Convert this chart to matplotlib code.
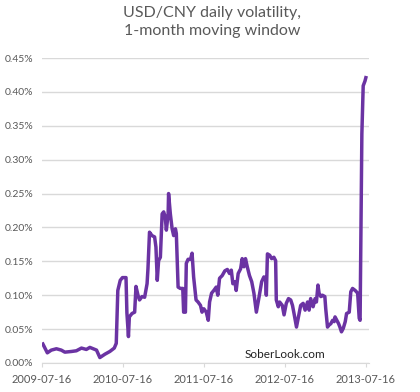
import matplotlib
matplotlib.use("Agg")
import matplotlib.pyplot as plt
import matplotlib.ticker as mticker
import matplotlib.dates as mdates
import pandas as pd

plt.rcParams['font.family'] = ['Lato', 'DejaVu Sans']

# days after 2009-07-16
days = [4, 24, 42, 65, 87, 103, 133, 155, 178, 200, 216, 231, 246, 261, 284,
        306, 326, 335, 342, 353, 363, 379, 383, 390, 394, 406, 418, 424, 433,
        440, 451, 463, 474, 478, 485, 496, 508, 514, 520, 526, 534, 542, 549,
        556, 561, 569, 571, 579, 587, 594, 602, 606, 614, 624, 635, 639, 647,
        651, 659, 670, 677, 684, 695, 704, 715, 722, 730, 741, 750, 756, 765,
        775, 786, 793, 801, 813, 825, 836, 846, 854, 861, 870, 876, 885, 896,
        903, 911, 918, 926, 936, 946, 956, 967, 979, 991, 1001, 1009, 1012,
        1017, 1027, 1036, 1046, 1054, 1057, 1066, 1072, 1084, 1092, 1102,
        1112, 1122, 1130, 1137, 1148, 1157, 1167, 1178, 1187, 1198, 1205,
        1212, 1223, 1232, 1238, 1245, 1250, 1258, 1265, 1276, 1280, 1288,
        1295, 1303, 1311, 1318, 1322, 1330, 1338, 1344, 1351, 1359, 1368,
        1374, 1386, 1393, 1401, 1413, 1424, 1431, 1435, 1443, 1449, 1457, 1461]
vol = [0.028, 0.015, 0.019, 0.021, 0.019, 0.016, 0.017, 0.018, 0.022, 0.020,
       0.023, 0.021, 0.019, 0.008, 0.013, 0.017, 0.022, 0.029, 0.107, 0.122,
       0.126, 0.126, 0.074, 0.039, 0.068, 0.073, 0.075, 0.113, 0.100, 0.093,
       0.098, 0.097, 0.117, 0.139, 0.193, 0.188, 0.186, 0.171, 0.122, 0.151,
       0.156, 0.220, 0.223, 0.215, 0.196, 0.220, 0.250, 0.220, 0.198, 0.188,
       0.198, 0.191, 0.112, 0.110, 0.110, 0.075, 0.075, 0.147, 0.153, 0.153,
       0.162, 0.127, 0.093, 0.090, 0.085, 0.075, 0.080, 0.075, 0.063, 0.090,
       0.103, 0.107, 0.112, 0.100, 0.125, 0.129, 0.136, 0.138, 0.132, 0.137,
       0.117, 0.120, 0.107, 0.132, 0.139, 0.154, 0.142, 0.154, 0.142, 0.129,
       0.120, 0.103, 0.075, 0.097, 0.120, 0.127, 0.125, 0.100, 0.161, 0.159,
       0.154, 0.156, 0.151, 0.093, 0.083, 0.090, 0.085, 0.071, 0.088, 0.095,
       0.093, 0.085, 0.073, 0.053, 0.068, 0.085, 0.088, 0.078, 0.090, 0.078,
       0.095, 0.083, 0.095, 0.090, 0.115, 0.103, 0.098, 0.100, 0.098, 0.080,
       0.053, 0.056, 0.058, 0.063, 0.061, 0.068, 0.063, 0.058, 0.053, 0.046,
       0.051, 0.061, 0.073, 0.075, 0.105, 0.110, 0.107, 0.103, 0.066, 0.063,
       0.338, 0.409, 0.416, 0.421]

start = pd.Timestamp('2009-07-16')
dates = start + pd.to_timedelta(days, unit='D')
tick_dates = pd.to_datetime(['2009-07-16', '2010-07-16', '2011-07-16',
                             '2012-07-16', '2013-07-16'])
y_ticks = [0, 0.05, 0.10, 0.15, 0.20, 0.25, 0.30, 0.35, 0.40, 0.45]

grey = '#595959'
fig = plt.figure(figsize=(4.2, 3.92), dpi=100)
ax = fig.add_axes([0.1, 0.074, 0.779, 0.778])

ax.plot(dates, vol, color='#6b33a3', lw=2.5, solid_joinstyle='round')

ax.set_ylim(0, 0.45)
ax.set_yticks(y_ticks)
ax.yaxis.set_major_formatter(mticker.FuncFormatter(lambda v, p: f'{v:.2f}%'))
ax.set_xlim(start, pd.Timestamp('2013-07-31'))
ax.set_xticks(tick_dates)
ax.xaxis.set_major_formatter(mdates.DateFormatter('%Y-%m-%d'))

ax.grid(axis='y', color='#d9d9d9', lw=1)
ax.set_axisbelow(True)
for s in ['top', 'right', 'left']:
    ax.spines[s].set_visible(False)
ax.spines['bottom'].set_color('#d9d9d9')
ax.tick_params(axis='y', length=0, pad=6, labelsize=7.5, labelcolor=grey)
ax.tick_params(axis='x', length=3, color='#d9d9d9', pad=5, labelsize=8,
               labelcolor=grey)

fig.text(0.505, 0.985, 'USD/CNY daily volatility,\n1-month moving window',
         ha='center', va='top', fontsize=11.5, color=grey, linespacing=1.35)
ax.text(pd.Timestamp('2012-07-16'), 0.004, 'SoberLook.com', ha='center',
        va='bottom', fontsize=8.5, color='#222222')

fig.savefig('out.png', dpi=100)
